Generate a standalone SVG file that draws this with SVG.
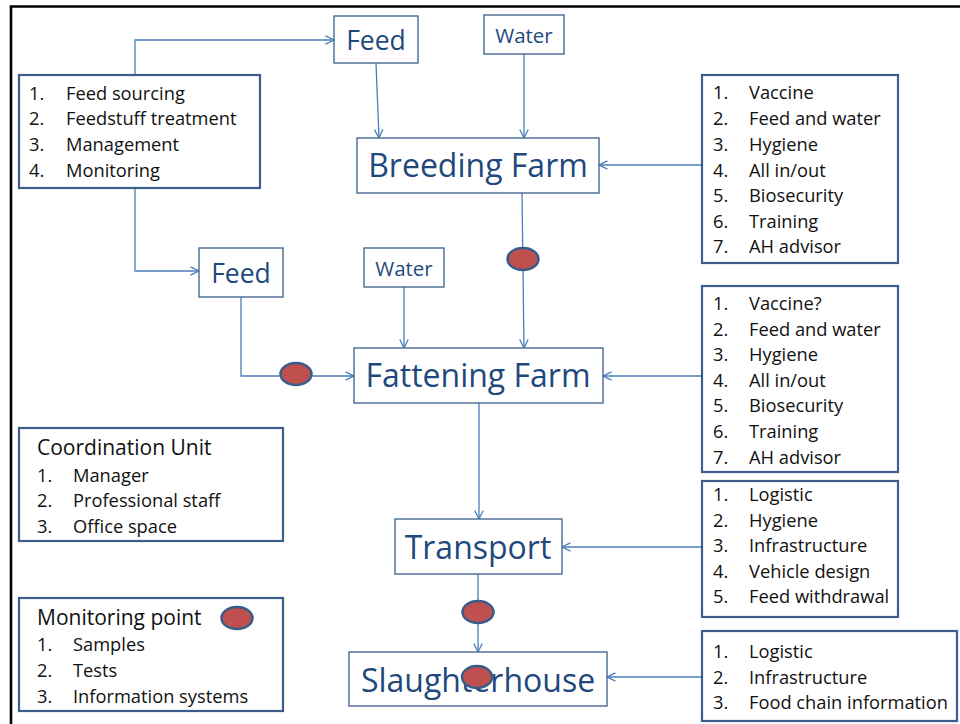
<svg xmlns="http://www.w3.org/2000/svg" width="960" height="724" viewBox="0 0 960 724">
  <style>
    .node { fill: #ffffff; stroke: #385d8a; stroke-width: 1.3; }
    .list { fill: #ffffff; stroke: #3b5e8c; stroke-width: 2.2; }
    .label { font-family: "Open Sans", "Liberation Sans", sans-serif; fill: #1f497d; text-anchor: middle; }
    .big { font-size: 32px; }
    .feed { font-size: 26.5px; }
    .water { font-size: 20.5px; }
    .item { font-family: "Open Sans", "Liberation Sans", sans-serif; font-size: 18.3px; fill: #111111; }
    .head { font-family: "Open Sans", "Liberation Sans", sans-serif; font-size: 21px; fill: #111111; }
    .conn { fill: none; stroke: #4a7ebb; stroke-width: 1.3; }
    .point { fill: #c0504d; stroke: #385d8a; stroke-width: 2.5; }
  </style>
  <defs>
    <marker id="arrow" viewBox="0 0 10 10" refX="9.5" refY="5" markerWidth="10" markerHeight="10" markerUnits="userSpaceOnUse" orient="auto">
      <path d="M1,0.8 L9.5,5 L1,9.2" fill="none" stroke="#4a7ebb" stroke-width="1.3"/>
    </marker>
  </defs>

  <!-- page frame -->
  <g id="frame" stroke="#000000" stroke-width="2.6" fill="none">
    <path d="M11,724 L11,6.5 L960,6.5"/>
  </g>

  <!-- connectors -->
  <g id="connectors" class="conn" marker-end="url(#arrow)">
    <path d="M135,75 L135,40 L334,40"/>
    <path d="M135,188 L135,271 L199,271"/>
    <path d="M376,63 L379,138"/>
    <path d="M524,54 L524,138"/>
    <path d="M702,165 L599,165"/>
    <path d="M522,193 L524,348"/>
    <path d="M241,297 L241,376 L354,376"/>
    <path d="M404,287 L404,348"/>
    <path d="M702,376 L603,376"/>
    <path d="M479,403 L479,519"/>
    <path d="M702,547 L562,547"/>
    <path d="M478,574 L478,652"/>
    <path d="M702,677 L607,677"/>
  </g>

  <!-- feed sourcing list -->
  <g id="feed-sourcing">
    <rect class="list" x="19" y="75" width="241" height="113"/>
    <text class="item" x="29" y="100">1.</text><text class="item" x="66" y="100">Feed sourcing</text>
    <text class="item" x="29" y="125">2.</text><text class="item" x="66" y="125">Feedstuff treatment</text>
    <text class="item" x="29" y="151">3.</text><text class="item" x="66" y="151">Management</text>
    <text class="item" x="29" y="177">4.</text><text class="item" x="66" y="177">Monitoring</text>
  </g>

  <g id="feed-top">
    <rect class="node" x="334" y="16" width="84" height="47"/>
    <text class="label feed" x="376" y="50">Feed</text>
  </g>

  <g id="water-top">
    <rect class="node" x="484" y="15" width="80" height="39"/>
    <text class="label water" x="524" y="43">Water</text>
  </g>

  <g id="breeding-farm">
    <rect class="node" x="357" y="138" width="242" height="55"/>
    <text class="label big" x="478" y="177">Breeding Farm</text>
  </g>

  <g id="breeding-measures">
    <rect class="list" x="702" y="75" width="196" height="188"/>
    <text class="item" x="713" y="99">1.</text><text class="item" x="749" y="99">Vaccine</text>
    <text class="item" x="713" y="125">2.</text><text class="item" x="749" y="125">Feed and water</text>
    <text class="item" x="713" y="151">3.</text><text class="item" x="749" y="151">Hygiene</text>
    <text class="item" x="713" y="177">4.</text><text class="item" x="749" y="177">All in/out</text>
    <text class="item" x="713" y="202">5.</text><text class="item" x="749" y="202">Biosecurity</text>
    <text class="item" x="713" y="228">6.</text><text class="item" x="749" y="228">Training</text>
    <text class="item" x="713" y="253">7.</text><text class="item" x="749" y="253">AH advisor</text>
  </g>

  <g id="feed-mid">
    <rect class="node" x="199" y="248" width="84" height="49"/>
    <text class="label feed" x="241" y="283">Feed</text>
  </g>

  <g id="water-mid">
    <rect class="node" x="364" y="248" width="80" height="39"/>
    <text class="label water" x="404" y="276">Water</text>
  </g>

  <g id="fattening-farm">
    <rect class="node" x="354" y="348" width="249" height="55"/>
    <text class="label big" x="478" y="387">Fattening Farm</text>
  </g>

  <g id="fattening-measures">
    <rect class="list" x="702" y="286" width="196" height="186"/>
    <text class="item" x="713" y="310">1.</text><text class="item" x="749" y="310">Vaccine?</text>
    <text class="item" x="713" y="336">2.</text><text class="item" x="749" y="336">Feed and water</text>
    <text class="item" x="713" y="361">3.</text><text class="item" x="749" y="361">Hygiene</text>
    <text class="item" x="713" y="387">4.</text><text class="item" x="749" y="387">All in/out</text>
    <text class="item" x="713" y="412">5.</text><text class="item" x="749" y="412">Biosecurity</text>
    <text class="item" x="713" y="438">6.</text><text class="item" x="749" y="438">Training</text>
    <text class="item" x="713" y="464">7.</text><text class="item" x="749" y="464">AH advisor</text>
  </g>

  <g id="transport">
    <rect class="node" x="395" y="519" width="167" height="55"/>
    <text class="label big" x="478" y="559">Transport</text>
  </g>

  <g id="transport-measures">
    <rect class="list" x="702" y="481" width="196" height="136"/>
    <text class="item" x="713" y="501">1.</text><text class="item" x="749" y="501">Logistic</text>
    <text class="item" x="713" y="527">2.</text><text class="item" x="749" y="527">Hygiene</text>
    <text class="item" x="713" y="552">3.</text><text class="item" x="749" y="552">Infrastructure</text>
    <text class="item" x="713" y="578">4.</text><text class="item" x="749" y="578">Vehicle design</text>
    <text class="item" x="713" y="603">5.</text><text class="item" x="749" y="603">Feed withdrawal</text>
  </g>

  <g id="slaughterhouse">
    <rect class="node" x="349" y="652" width="258" height="54"/>
    <text class="label big" x="478" y="692">Slaughterhouse</text>
  </g>

  <g id="slaughter-measures">
    <rect class="list" x="702" y="631" width="255" height="90"/>
    <text class="item" x="713" y="658">1.</text><text class="item" x="749" y="658">Logistic</text>
    <text class="item" x="713" y="684">2.</text><text class="item" x="749" y="684">Infrastructure</text>
    <text class="item" x="713" y="709">3.</text><text class="item" x="749" y="709">Food chain information</text>
  </g>

  <g id="coordination-unit">
    <rect class="list" x="19" y="428" width="264" height="113"/>
    <text class="head" x="37" y="455">Coordination Unit</text>
    <text class="item" x="37" y="482">1.</text><text class="item" x="73" y="482">Manager</text>
    <text class="item" x="37" y="507">2.</text><text class="item" x="73" y="507">Professional staff</text>
    <text class="item" x="37" y="533">3.</text><text class="item" x="73" y="533">Office space</text>
  </g>

  <g id="monitoring-legend">
    <rect class="list" x="19" y="598" width="264" height="113"/>
    <text class="head" x="37" y="625">Monitoring point</text>
    <ellipse class="point" cx="237" cy="618" rx="15.5" ry="11"/>
    <text class="item" x="37" y="651">1.</text><text class="item" x="73" y="651">Samples</text>
    <text class="item" x="37" y="677">2.</text><text class="item" x="73" y="677">Tests</text>
    <text class="item" x="37" y="703">3.</text><text class="item" x="73" y="703">Information systems</text>
  </g>

  <!-- monitoring points on the chain -->
  <g id="monitoring-points">
    <ellipse class="point" cx="523" cy="259" rx="15.5" ry="11"/>
    <ellipse class="point" cx="296" cy="374" rx="15.5" ry="11"/>
    <ellipse class="point" cx="478" cy="612" rx="15.5" ry="11"/>
    <ellipse class="point" cx="477" cy="677" rx="15" ry="11"/>
  </g>
</svg>
